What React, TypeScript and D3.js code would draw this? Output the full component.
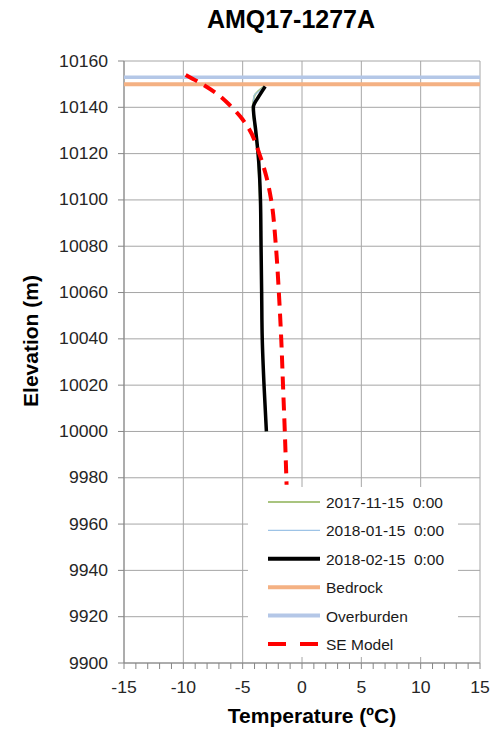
import React from "react";
import * as d3 from "d3";

const title = "AMQ17-1277A";
const xTicks = [-15, -10, -5, 0, 5, 10, 15];
const yTicks = [9900, 9920, 9940, 9960, 9980, 10000, 10020, 10040, 10060, 10080, 10100, 10120, 10140, 10160];

// Temperature profiles: [temperature, elevation]
const nov15Temp = [-3.2, -3.7, -4.0, -4.15, -3.95, -3.75, -3.55, -3.45, -3.4, -3.35, -3.2, -3.0];
const nov15Elev = [10149, 10147, 10145, 10140, 10130, 10120, 10100, 10080, 10060, 10040, 10020, 10000];
const jan15Temp = [-3.15, -3.6, -4.05, -4.1, -3.9, -3.7, -3.5, -3.45, -3.4, -3.35, -3.2, -3.0];
const jan15Elev = [10149, 10147, 10145, 10140, 10130, 10120, 10100, 10080, 10060, 10040, 10020, 10000];
const feb15Temp = [-3.1, -3.6, -4.1, -3.9, -3.7, -3.5, -3.45, -3.4, -3.35, -3.2, -3.0];
const feb15Elev = [10149, 10145, 10140, 10130, 10120, 10100, 10080, 10060, 10040, 10020, 10000];
const seTemp = [-9.8, -8.4, -7.2, -6.1, -5.2, -4.5, -3.6, -3.0, -2.6, -2.2, -1.95, -1.75, -1.6, -1.45, -1.3];
const seElev = [10154, 10150, 10146, 10141, 10136, 10131, 10120, 10110, 10100, 10080, 10060, 10040, 10020, 10000, 9977];
const bedrockElev = 10150;
const overburdenElev = 10153;

const legendLabels = ["2017-11-15  0:00", "2018-01-15  0:00", "2018-02-15  0:00", "Bedrock", "Overburden", "SE Model"];

const W = 490, H = 731;
const L = 124, R = 480, T = 61, B = 663;

export default function App() {
  const x = d3.scaleLinear().domain([-15, 15]).range([L, R]);
  const y = d3.scaleLinear().domain([9900, 10160]).range([B, T]);
  const line = d3
    .line<[number, number]>()
    .x((d) => x(d[0]))
    .y((d) => y(d[1]))
    .curve(d3.curveMonotoneY);
  const zip = (a: number[], b: number[]) => a.map((v, i) => [v, b[i]] as [number, number]);
  const minor = d3.range(-15, 15.01, 1);

  const legendStyles = [
    { stroke: "#a9c47f", width: 2, dash: "" },
    { stroke: "#9dc3e6", width: 1.2, dash: "" },
    { stroke: "#000000", width: 4, dash: "" },
    { stroke: "#f4b183", width: 4, dash: "" },
    { stroke: "#b4c7e7", width: 4, dash: "" },
    { stroke: "#ff0000", width: 4, dash: "18,14" },
  ];

  const font = "Liberation Sans, Arial, sans-serif";

  return (
    <svg
      width={W}
      height={H}
      style={{ position: "absolute", left: 0, top: 0, background: "#fff" }}
      fontFamily={font}
    >
      <rect x={0} y={0} width={W} height={H} fill="#fff" />
      <text x={291} y={28} textAnchor="middle" fontSize={25} fontWeight="bold" fill="#000">
        {title}
      </text>

      {/* grid */}
      {yTicks.map((t) => (
        <line key={"gy" + t} x1={L} x2={R} y1={y(t)} y2={y(t)} stroke="#a6a6a6" strokeWidth={1} />
      ))}
      {xTicks.map((t) => (
        <line key={"gx" + t} x1={x(t)} x2={x(t)} y1={T} y2={B} stroke="#a6a6a6" strokeWidth={1} />
      ))}

      {/* axes */}
      <line x1={L} x2={L} y1={T} y2={B} stroke="#868686" strokeWidth={1} />
      <line x1={L} x2={R} y1={B} y2={B} stroke="#868686" strokeWidth={1} />
      {yTicks.map((t) => (
        <line key={"ty" + t} x1={L - 6} x2={L} y1={y(t)} y2={y(t)} stroke="#868686" />
      ))}
      {minor.map((t) => (
        <line key={"tx" + t} x1={x(t)} x2={x(t)} y1={B} y2={B + 6} stroke="#868686" />
      ))}

      {/* tick labels */}
      {yTicks.map((t) => (
        <text
          key={"ly" + t}
          transform={`translate(${L - 16},${y(t) + 5.5}) scale(1.1,1)`}
          textAnchor="end"
          fontSize={16}
          fill="#262626"
        >
          {t}
        </text>
      ))}
      {xTicks.map((t) => (
        <text
          key={"lx" + t}
          transform={`translate(${x(t)},${B + 30}) scale(1.1,1)`}
          textAnchor="middle"
          fontSize={16}
          fill="#262626"
        >
          {t}
        </text>
      ))}

      {/* axis titles */}
      <text x={312} y={723} textAnchor="middle" fontSize={21} fontWeight="bold" fill="#000">
        Temperature (ºC)
      </text>
      <text
        transform={`translate(38,341) rotate(-90)`}
        textAnchor="middle"
        fontSize={21}
        fontWeight="bold"
        fill="#000"
      >
        Elevation (m)
      </text>

      {/* horizontal reference lines */}
      <line x1={L} x2={R} y1={y(overburdenElev)} y2={y(overburdenElev)} stroke="#b4c7e7" strokeWidth={3.5} />
      <line x1={L} x2={R} y1={y(bedrockElev)} y2={y(bedrockElev)} stroke="#f4b183" strokeWidth={4} />

      {/* profiles */}
      <path d={line(zip(nov15Temp, nov15Elev)) || ""} fill="none" stroke="#a9c47f" strokeWidth={2} />
      <path d={line(zip(jan15Temp, jan15Elev)) || ""} fill="none" stroke="#9dc3e6" strokeWidth={1.2} />
      <path d={line(zip(feb15Temp, feb15Elev)) || ""} fill="none" stroke="#000" strokeWidth={3.5} />
      <path
        d={line(zip(seTemp, seElev)) || ""}
        fill="none"
        stroke="#ff0000"
        strokeWidth={4}
        strokeDasharray="13,8"
      />

      {/* legend */}
      <rect x={248} y={487} width={210} height={170} fill="#fff" />
      {legendLabels.map((lab, i) => {
        const cy = 502 + i * 28.4;
        const s = legendStyles[i];
        return (
          <g key={lab}>
            <line
              x1={268}
              x2={320}
              y1={cy}
              y2={cy}
              stroke={s.stroke}
              strokeWidth={s.width}
              strokeDasharray={s.dash || undefined}
            />
            <text x={326} y={cy + 6} fontSize={15.5} fill="#1a1a1a" style={{ whiteSpace: "pre" }}>
              {lab}
            </text>
          </g>
        );
      })}
    </svg>
  );
}
